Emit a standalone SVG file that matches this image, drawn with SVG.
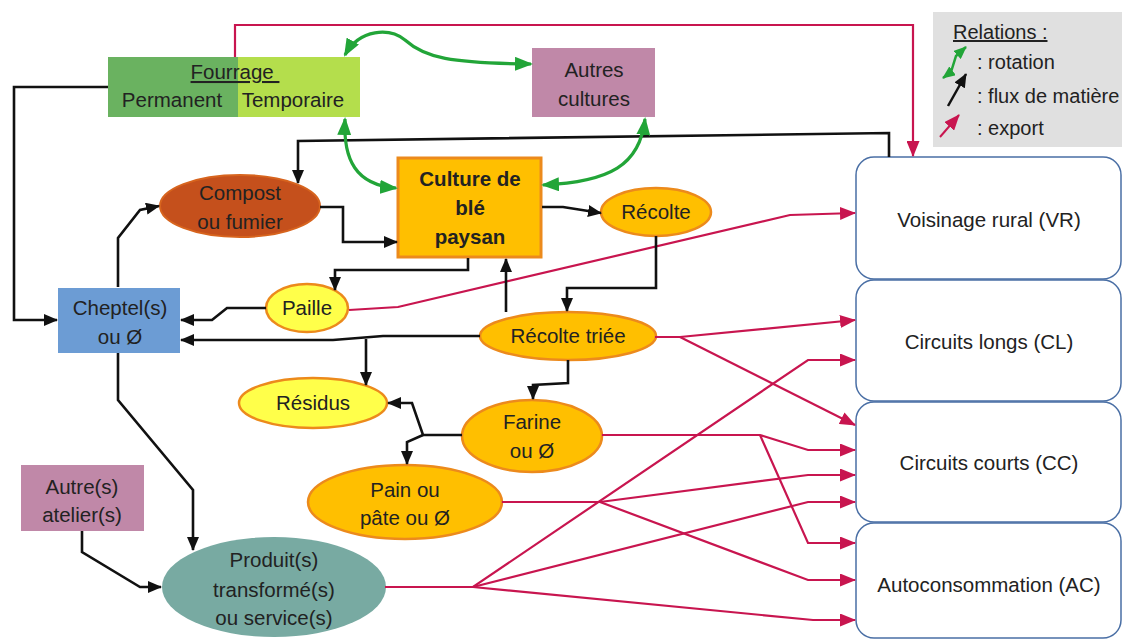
<svg xmlns="http://www.w3.org/2000/svg" width="1122" height="640" viewBox="0 0 1122 640">
<style>
text{font-family:"Liberation Sans",Arial,sans-serif;font-size:20.5px;fill:#222;text-anchor:middle}
.blk{fill:none;stroke:#111;stroke-width:2.6;stroke-linejoin:miter;marker-end:url(#ab)}
.red{fill:none;stroke:#c8154f;stroke-width:2.2;marker-end:url(#ar)}
.grn{fill:none;stroke:#22a538;stroke-width:3.2;marker-end:url(#ag);marker-start:url(#ag)}
.orange{fill:#ffbf00;stroke:#ec8a1c;stroke-width:2.5}
.yellow{fill:#ffff4a;stroke:#ec8a1c;stroke-width:2.5}
.dest{fill:#fff;stroke:#4a6fa5;stroke-width:1.5}
.mauve{fill:#c088a8}
.lg{text-anchor:start;font-size:20px}
</style>
<defs>
<marker id="ab" markerUnits="userSpaceOnUse" markerWidth="14" markerHeight="12" refX="13" refY="6" orient="auto"><path d="M0,0 L14,6 L0,12 z" fill="#111"/></marker>
<marker id="ar" markerUnits="userSpaceOnUse" markerWidth="16" markerHeight="13" refX="15" refY="6.5" orient="auto"><path d="M0,0 L16,6.5 L0,13 z" fill="#c8154f"/></marker>
<marker id="ag" markerUnits="userSpaceOnUse" markerWidth="18" markerHeight="14" refX="16" refY="7" orient="auto-start-reverse"><path d="M0,0 L18,7 L0,14 z" fill="#22a538"/></marker>
<marker id="agS" markerUnits="userSpaceOnUse" markerWidth="13" markerHeight="11" refX="12" refY="5.5" orient="auto-start-reverse"><path d="M0,0 L13,5.5 L0,11 z" fill="#22a538"/></marker>
</defs>
<rect width="1122" height="640" fill="#fff"/>

<g id="legend">
<rect x="933" y="12" width="189" height="135" fill="#e0e0e0"/>
<text class="lg" x="953" y="39" text-decoration="underline">Relations :</text>
<path d="M943,78 L951,72 L956,56 L966,47" fill="none" stroke="#22a538" stroke-width="2.5" marker-start="url(#agS)" marker-end="url(#agS)"/>
<text class="lg" x="977" y="69">: rotation</text>
<path d="M948,106 L966,74" fill="none" stroke="#111" stroke-width="2.5" marker-end="url(#ab)"/>
<text class="lg" x="977" y="103">: flux de matière</text>
<path d="M940,137 L959,115" fill="none" stroke="#c8154f" stroke-width="2" marker-end="url(#ar)"/>
<text class="lg" x="977" y="135">: export</text>
</g>

<g id="fourrage">
<rect x="108" y="57" width="130" height="60" fill="#6ab260"/>
<rect x="238" y="57" width="122" height="60" fill="#b4de4c"/>
<text x="235" y="79" text-decoration="underline" xml:space="preserve">Fourrage </text>
<text x="172" y="107">Permanent</text>
<text x="293" y="107">Temporaire</text>
</g>
<g id="autres-cultures">
<rect class="mauve" x="532" y="48" width="123" height="69"/>
<text x="594" y="77">Autres</text>
<text x="594" y="106">cultures</text>
</g>
<g id="culture-ble">
<rect x="398" y="158" width="143" height="99" fill="#ffbf00" stroke="#ec8a1c" stroke-width="3"/>
<text x="470" y="186" font-weight="bold">Culture de</text>
<text x="470" y="215" font-weight="bold">blé</text>
<text x="470" y="244" font-weight="bold">paysan</text>
</g>
<g id="compost">
<ellipse cx="240" cy="206" rx="80" ry="31" fill="#c5501c" stroke="#d7641e" stroke-width="2"/>
<text x="240" y="200" fill="#2a1508">Compost</text>
<text x="240" y="229" fill="#2a1508">ou fumier</text>
</g>
<g id="recolte">
<ellipse class="orange" cx="656" cy="212" rx="55" ry="24"/>
<text x="656" y="219">Récolte</text>
</g>
<g id="paille">
<ellipse class="yellow" cx="307" cy="308" rx="41" ry="24"/>
<text x="307" y="315">Paille</text>
</g>
<g id="cheptel">
<rect x="58" y="288" width="122" height="65" fill="#6c9cd4"/>
<text x="120" y="315">Cheptel(s)</text>
<text x="120" y="344">ou Ø</text>
</g>
<g id="recolte-triee">
<ellipse class="orange" cx="568" cy="336" rx="88" ry="24"/>
<text x="568" y="343">Récolte triée</text>
</g>
<g id="residus">
<ellipse class="yellow" cx="313" cy="403" rx="74" ry="25"/>
<text x="313" y="410">Résidus</text>
</g>
<g id="farine">
<ellipse class="orange" cx="532" cy="436" rx="70" ry="36"/>
<text x="532" y="429">Farine</text>
<text x="532" y="458">ou Ø</text>
</g>
<g id="pain">
<ellipse class="orange" cx="405" cy="502" rx="97" ry="37"/>
<text x="405" y="497">Pain ou</text>
<text x="405" y="525">pâte ou Ø</text>
</g>
<g id="autres-ateliers">
<rect class="mauve" x="21" y="465" width="123" height="66"/>
<text x="82" y="494">Autre(s)</text>
<text x="82" y="522">atelier(s)</text>
</g>
<g id="produits">
<ellipse cx="274" cy="587" rx="112" ry="50" fill="#78aaa2"/>
<text x="274" y="567">Produit(s)</text>
<text x="274" y="597">transformé(s)</text>
<text x="274" y="625">ou service(s)</text>
</g>
<g id="vr"><rect class="dest" x="856" y="157" width="265" height="122" rx="18"/><text x="989" y="227">Voisinage rural (VR)</text></g>
<g id="cl"><rect class="dest" x="856" y="280" width="265" height="121" rx="18"/><text x="989" y="349">Circuits longs (CL)</text></g>
<g id="cc"><rect class="dest" x="856" y="402" width="265" height="120" rx="18"/><text x="989" y="470">Circuits courts (CC)</text></g>
<g id="ac"><rect class="dest" x="856" y="523" width="265" height="115" rx="18"/><text x="989" y="592">Autoconsommation (AC)</text></g>

<g id="connectors">
<path class="red" d="M235,57 V25 H913 V156"/>
<path class="red" d="M349,310 L398,307 L790,215 L855,213"/>
<path class="red" d="M655,337 L680,337 L855,320"/>
<path class="red" d="M680,337 L855,425"/>
<path class="red" d="M602,435 L760,435 L808,450 L855,450"/>
<path class="red" d="M760,435 L808,543 L855,543"/>
<path class="red" d="M502,502 L600,502 L808,475 L855,475"/>
<path class="red" d="M600,502 L808,580 L855,580"/>
<path class="red" d="M385,587 L473,587 L808,360 L855,360"/>
<path class="red" d="M473,587 L808,502 L855,502"/>
<path class="red" d="M473,587 L813,620 L855,620"/>

<path class="blk" d="M108,87 H14 V320 H57"/>
<path class="blk" d="M889,157 V133 L298,141 V183"/>
<path class="blk" d="M320,207 H343 V242 H397"/>
<path class="blk" d="M542,207 H563 L601,213"/>
<path class="blk" d="M468,258 V270 H335 V290"/>
<path class="blk" d="M266,308 H227 L212,320 H181"/>
<path class="blk" d="M480,336 L383,336 L333,340 H181"/>
<path class="blk" d="M366,339 V385"/>
<path class="blk" d="M506,312 V259"/>
<path class="blk" d="M656,236 V288 H567 V311"/>
<path class="blk" d="M568,360 V383 L533,385 V399"/>
<path class="blk" d="M462,435 H423 L412,403 H388"/>
<path class="blk" d="M423,435 L407,442 V464"/>
<path class="blk" d="M118,353 V400 L193,490 V550"/>
<path class="blk" d="M118,287 V238 L140,210 L159,206"/>
<path class="blk" d="M82,531 V552 L140,587 H161"/>

<path class="grn" d="M345,55 C360,28 390,28 405,40 C425,58 450,63 531,64"/>
<path class="grn" d="M345,119 C343,160 356,185 396,188"/>
<path class="grn" d="M645,119 C640,165 610,182 543,185"/>
</g>
</svg>
